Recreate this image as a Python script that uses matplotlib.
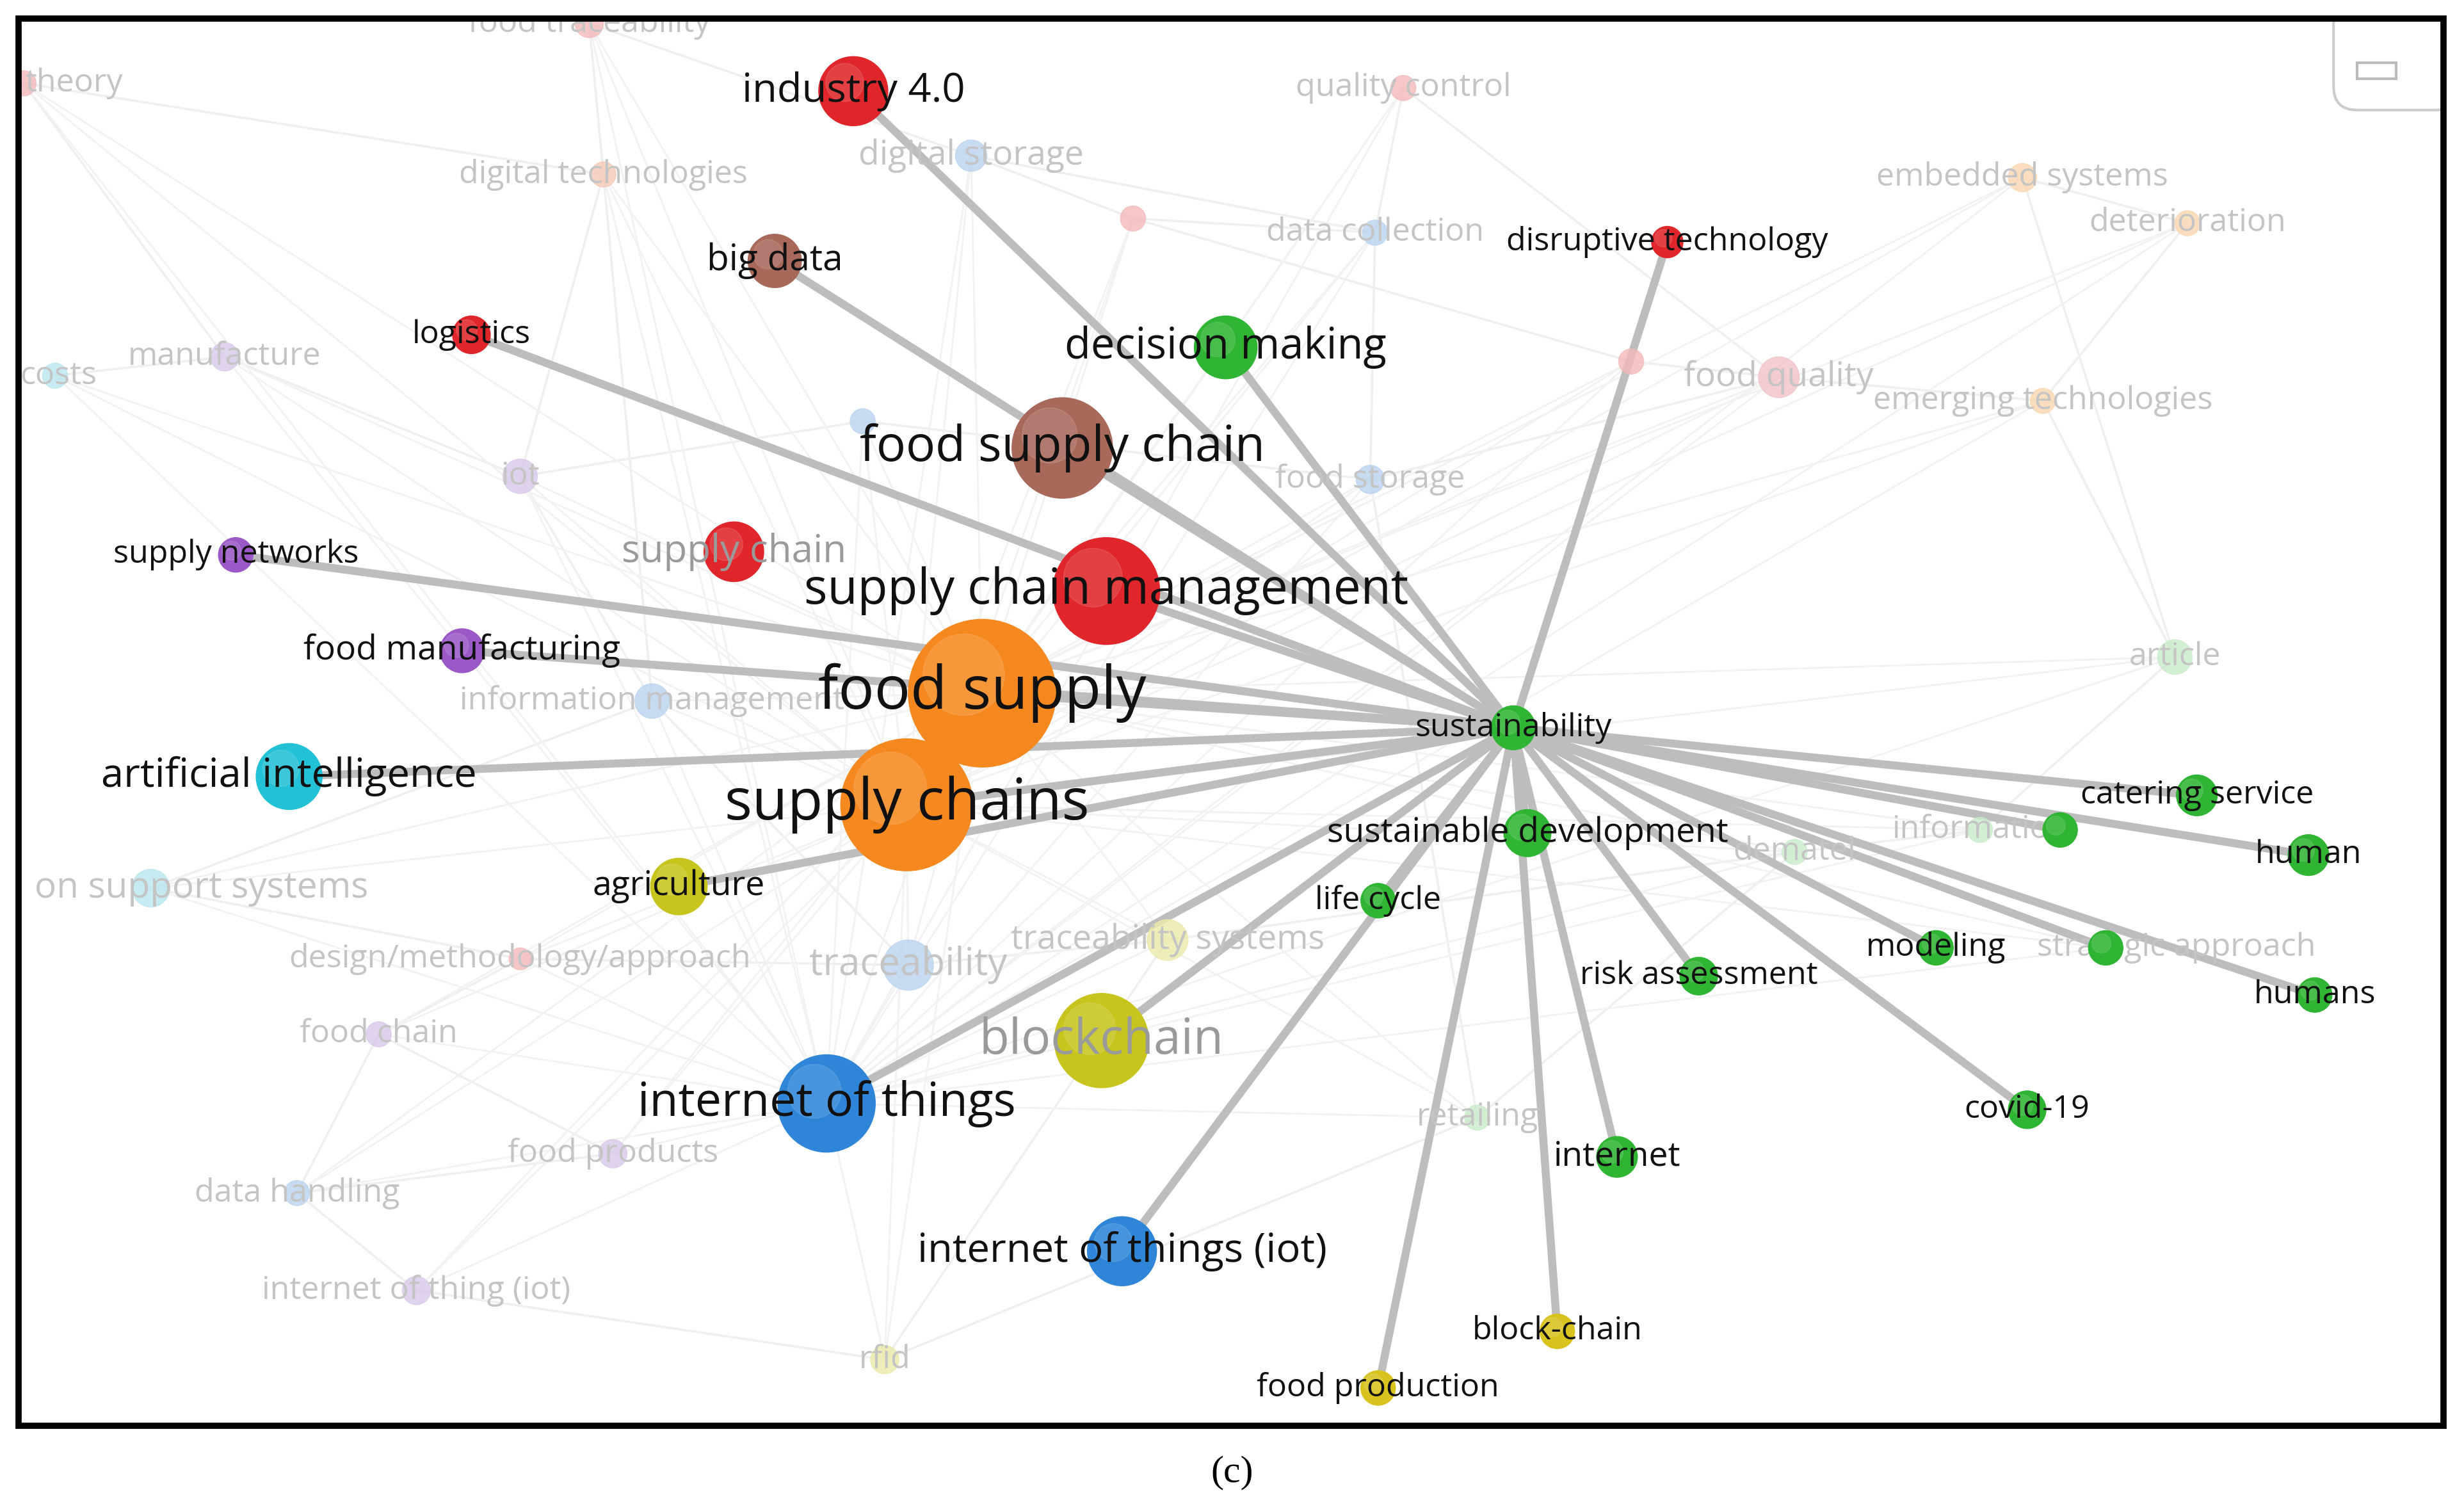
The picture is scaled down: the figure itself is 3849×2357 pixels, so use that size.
import matplotlib
matplotlib.use("Agg")
import matplotlib.pyplot as plt
from matplotlib.patches import Circle, Rectangle, FancyBboxPatch

RED="#e0262b"; BROWN="#a8685a"; GREEN="#2fb533"; PURPLE="#9b59c8"; ORANGE="#f5891f"
CYAN="#22c1d6"; OLIVE="#c8c41e"; BLUE="#2f86d8"; YEL="#d8c21e"

act_names = ["sustainability","industry 4.0","big data","logistics","decision making","food supply chain",
 "supply networks","supply chain","supply chain management","food manufacturing","food supply",
 "artificial intelligence","supply chains","agriculture","blockchain","internet of things",
 "internet of things (iot)","disruptive technology","sustainable development","life cycle",
 "risk assessment","modeling","internet","covid-19","block-chain","food production",
 "catering service","human","humans","",""]
act_x = [963,543,493,300,780,676,150,467,704,294,625,184,577,432,701,526,714,1061,972,877,1081,1232,1029,1290,991,877,1398,1469,1473,1311,1340]
act_y = [463,58,166,213,221,285,353,351,376,414,441,494,512,564,662,702,796,154,530,573,621,603,736,706,847,883,506,544,633,528,603]
act_r = [14,22,17,12,20,32,11,19,34,14,47,21,42,18,30,31,22,10,15,11,12,11,13,12,11,11,13,13,11,11,11]
act_c = [GREEN,RED,BROWN,RED,GREEN,BROWN,PURPLE,RED,RED,PURPLE,ORANGE,CYAN,ORANGE,OLIVE,OLIVE,BLUE,BLUE,RED,GREEN,GREEN,GREEN,GREEN,GREEN,GREEN,YEL,YEL,GREEN,GREEN,GREEN,GREEN,GREEN]
act_fs = [15,19,17,15,20,23,15,18,23,16,28,19,27,16,23,22,19,15,16,15,15,15,16,15,15,15,15,15,15,15,15]
act_faded_label = ["supply chain","blockchain"]

fad_names = ["theory","food traceability","digital technologies","digital storage","quality control","data collection",
 "embedded systems","deterioration","food quality","emerging technologies","costs","manufacture","iot","food storage",
 "information management","article","on support systems","design/methodology/approach","traceability",
 "traceability systems","food chain","dematel","food products","retailing","data handling","internet of thing (iot)","rfid",
 "information","","","","strategic approach"]
fad_x = [15,375,384,618,893,875,1287,1392,1132,1300,35,143,331,872,415,1384,96,331,578,743,241,1142,390,940,189,265,563,1260,721,1038,549,1340]
fad_y = [53,15,111,99,56,148,113,142,240,255,239,227,303,305,446,418,565,610,614,598,658,542,734,711,759,821,865,528,139,230,268,603]
fad_lx = [47,375,384,618,893,875,1287,1392,1132,1300,37,143,331,872,415,1384,128,331,578,743,241,1142,390,940,189,265,563,1260,721,1038,549,1385]
fad_r = [8,9,8,10,8,8,9,8,13,8,8,9,11,9,11,11,12,7,16,13,8,8,9,8,8,9,9,8,8,8,8,0]
fad_c = ["#f3b9b9","#f3b9b9","#f6c9b5","#b9d4ef","#f3b9b9","#b9d4ef","#fad6b0","#fad6b0","#f3c2c7","#fad6b0","#b9e6ef","#d9c8ea",
 "#d9c8ea","#b9d4ef","#b9d4ef","#c8ecc9","#b9e6ef","#f3b9b9","#b9d4ef","#ece9a8","#d9c8ea","#c8ecc9","#d9c8ea","#c8ecc9",
 "#b9d4ef","#d9c8ea","#ece9a8","#c8ecc9","#f3b9b9","#f3b9b9","#b9d4ef","#c8ecc9"]
fad_fs = [15,15,15,16,15,15,15,15,16,15,15,15,15,15,15,15,17,15,18,16,15,15,15,15,15,15,15,15,15,15,15,15]

bg_edges = [(0,2),(0,11),(1,3),(2,12),(3,5),(4,5),(4,8),(5,13),(6,7),(7,9),(8,9),(8,13),(10,11),(11,12),(12,14),(14,16),
 (16,17),(17,18),(18,19),(19,21),(20,22),(22,24),(24,25),(25,26),(23,21),(21,27),(27,15),(15,9),(13,23),(14,18),(2,14),
 (3,28),(28,29),(29,8),(30,13),(12,30),(6,15),(17,20),(20,24),(19,26),(23,26),(9,15),(1,2),(5,28)]

sust_edges = [1,2,3,4,5,6,8,9,10,11,12,13,14,15,16,17,18,19,20,21,22,23,24,25,26,27,28,29,30]

S = 3849/1568
fig = plt.figure(figsize=(38.49,23.57), dpi=100)
ax = fig.add_axes([0,0,1,1])
ax.set_xlim(0,1568); ax.set_ylim(960,0); ax.axis("off")
plt.rcParams['font.family'] = ['Open Sans','DejaVu Sans']
fs = lambda f: f*S*0.72*1.36

for a,b in bg_edges:
    ax.plot([fad_x[a],fad_x[b]],[fad_y[a],fad_y[b]],color="#efefef",lw=2.5,zorder=1)
for i in range(len(fad_x)):
    for k in (10,12,15):
        ax.plot([fad_x[i],act_x[k]],[fad_y[i],act_y[k]],color="#f2f2f2",lw=2,zorder=1)

for k in sust_edges:
    ax.plot([act_x[0],act_x[k]],[act_y[0],act_y[k]],color="#bdbdbd",lw=9,zorder=2,solid_capstyle="round")

for i in range(len(fad_x)):
    if fad_r[i]:
        ax.add_patch(Circle((fad_x[i],fad_y[i]),fad_r[i],color=fad_c[i],zorder=3,alpha=0.8))
    if fad_names[i]:
        ax.text(fad_lx[i],fad_y[i],fad_names[i],fontsize=fs(fad_fs[i]),color="#c4c4c4",ha="center",va="center",zorder=4)

for i in range(len(act_x)):
    ax.add_patch(Circle((act_x[i],act_y[i]),act_r[i],color=act_c[i],zorder=5))
    ax.add_patch(Circle((act_x[i]-act_r[i]*0.25,act_y[i]-act_r[i]*0.25),act_r[i]*0.55,color="white",alpha=0.12,zorder=5))
for i in range(len(act_x)):
    if act_names[i]:
        col = "#9a9a9a" if act_names[i] in act_faded_label else "#111111"
        ax.text(act_x[i],act_y[i],act_names[i],fontsize=fs(act_fs[i]),color=col,ha="center",va="center",zorder=6)

ax.add_patch(FancyBboxPatch((1485,0),80,70,boxstyle="round,pad=0,rounding_size=15",fc="white",ec="#cccccc",lw=3,zorder=7))
ax.add_patch(Rectangle((1500,40),25,10,fc="none",ec="#bbbbbb",lw=3,zorder=8))
ax.add_patch(Rectangle((0,907),1568,53,fc="white",ec="none",zorder=9))
ax.add_patch(Rectangle((0,0),12,960,fc="white",ec="none",zorder=9))
ax.add_patch(Rectangle((1555,0),13,960,fc="white",ec="none",zorder=9))
ax.add_patch(Rectangle((0,0),1568,12,fc="white",ec="none",zorder=9))
ax.add_patch(Rectangle((12,12),1543,895,fc="none",ec="black",lw=7,zorder=10))
ax.text(784,937,"(c)",fontsize=fs(18),ha="center",va="center",family=["Liberation Serif","DejaVu Serif"],zorder=11)
fig.savefig("out.png",dpi=100)
